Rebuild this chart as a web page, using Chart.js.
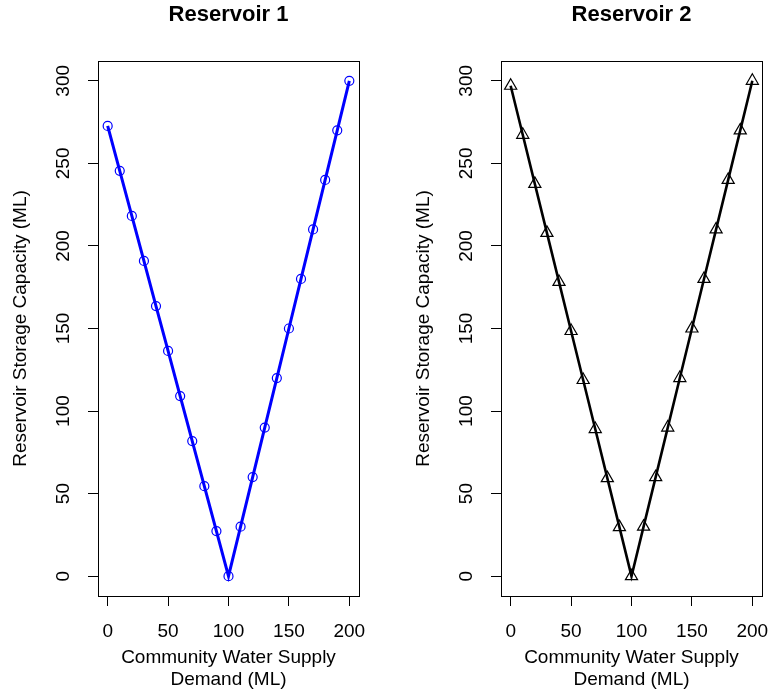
<!DOCTYPE html>
<html>
<head>
<meta charset="utf-8">
<script src="https://cdn.jsdelivr.net/npm/chart.js@4.4.1/dist/chart.umd.min.js"></script>
<style>
  html, body { margin: 0; padding: 0; background: #fff; }
  .wrap { position: absolute; top: 0; width: 384px; height: 693px; }
</style>
</head>
<body>
<div class="wrap" style="left:0"><canvas id="res1" width="384" height="693"></canvas></div>
<div class="wrap" style="left:384px"><canvas id="res2" width="384" height="693"></canvas></div>
<script>
// Demand values (ML) on the x axis
const demand = [0, 10, 20, 30, 40, 50, 60, 70, 80, 90, 100,
  110, 120, 130, 140, 150, 160, 170, 180, 190, 200];

// Storage capacity (ML)
const storage1 = [272.7, 245.5, 218.2, 190.9, 163.6, 136.4, 109.1, 81.8, 54.5, 27.3, 0,
  30, 60, 90, 120, 150, 180, 210, 240, 270, 300];
const storage2 = [297, 267.3, 237.6, 207.9, 178.2, 148.5, 118.8, 89.1, 59.4, 29.7, 0,
  30, 60, 90, 120, 150, 180, 210, 240, 270, 300];

const xTicks = [0, 50, 100, 150, 200];
const yTicks = [0, 50, 100, 150, 200, 250, 300];
const xTitle = ["Community Water Supply", "Demand (ML)"];
const yTitle = "Reservoir Storage Capacity (ML)";

const FONT = '"Liberation Sans", Arial, Helvetica, sans-serif';

// R-style frame, axis labels and titles
const rText = {
  id: "rText",
  afterDraw(chart, args, opts) {
    const { ctx, chartArea: a, scales } = chart;
    const x = scales.x;
    const y = scales.y;
    ctx.save();
    ctx.strokeStyle = "#000";
    ctx.lineWidth = 1;
    ctx.strokeRect(Math.round(a.left) + 0.5, Math.round(a.top) + 0.5,
      Math.round(a.right - a.left), Math.round(a.bottom - a.top));

    ctx.fillStyle = "#000";
    ctx.textAlign = "center";
    ctx.textBaseline = "middle";
    const cx = (a.left + a.right) / 2;

    ctx.font = "bold 22px " + FONT;
    ctx.fillText(opts.title, cx, 15);

    ctx.font = "19px " + FONT;
    xTicks.forEach((v) => ctx.fillText(String(v), x.getPixelForValue(v), a.bottom + 36));
    xTitle.forEach((t, i) => ctx.fillText(t, cx, 658 + i * 22));

    yTicks.forEach((v) => {
      ctx.save();
      ctx.translate(a.left - 34.5, y.getPixelForValue(v));
      ctx.rotate(-Math.PI / 2);
      ctx.fillText(String(v), 0, 0);
      ctx.restore();
    });

    ctx.save();
    ctx.translate(a.left - 77, (a.top + a.bottom) / 2);
    ctx.rotate(-Math.PI / 2);
    ctx.fillText(yTitle, 0, 0);
    ctx.restore();
    ctx.restore();
  },
};

function makePanel(id, title, values, color, style, radius, lineW, leftW, rightPad) {
  const ctx = document.getElementById(id).getContext("2d");
  return new Chart(ctx, {
    type: "scatter",
    data: {
      datasets: [
        {
          data: demand.map((d, i) => ({ x: d, y: values[i] })),
          showLine: true,
          borderColor: color,
          borderWidth: lineW,
          pointStyle: style,
          pointRadius: radius,
          pointBorderWidth: 1.2,
          pointBorderColor: color,
          pointBackgroundColor: "rgba(0,0,0,0)",
          tension: 0,
        },
      ],
    },
    options: {
      responsive: false,
      animation: false,
      devicePixelRatio: 1,
      layout: { autoPadding: false, padding: { top: 61, right: rightPad, bottom: 0, left: 0 } },
      plugins: { legend: { display: false }, tooltip: { enabled: false }, rText: { title: title } },
      scales: {
        x: {
          type: "linear",
          min: -8,
          max: 208,
          afterBuildTicks: (s) => { s.ticks = xTicks.map((v) => ({ value: v })); },
          afterFit: (s) => { s.height = 97; },
          grid: { drawOnChartArea: false, drawTicks: true, tickLength: 10, color: "#000" },
          border: { display: false },
          ticks: { display: false },
        },
        y: {
          min: -12,
          max: 312,
          afterBuildTicks: (s) => { s.ticks = yTicks.map((v) => ({ value: v })); },
          afterFit: (s) => { s.width = leftW; },
          grid: { drawOnChartArea: false, drawTicks: true, tickLength: 10, color: "#000" },
          border: { display: false },
          ticks: { display: false },
        },
      },
    },
    plugins: [rText],
  });
}

makePanel("res1", "Reservoir 1", storage1, "#0000ff", "circle", 4.5, 3, 98, 25);
makePanel("res2", "Reservoir 2", storage2, "#000000", "triangle", 7, 2.6, 117, 6);
</script>
</body>
</html>
